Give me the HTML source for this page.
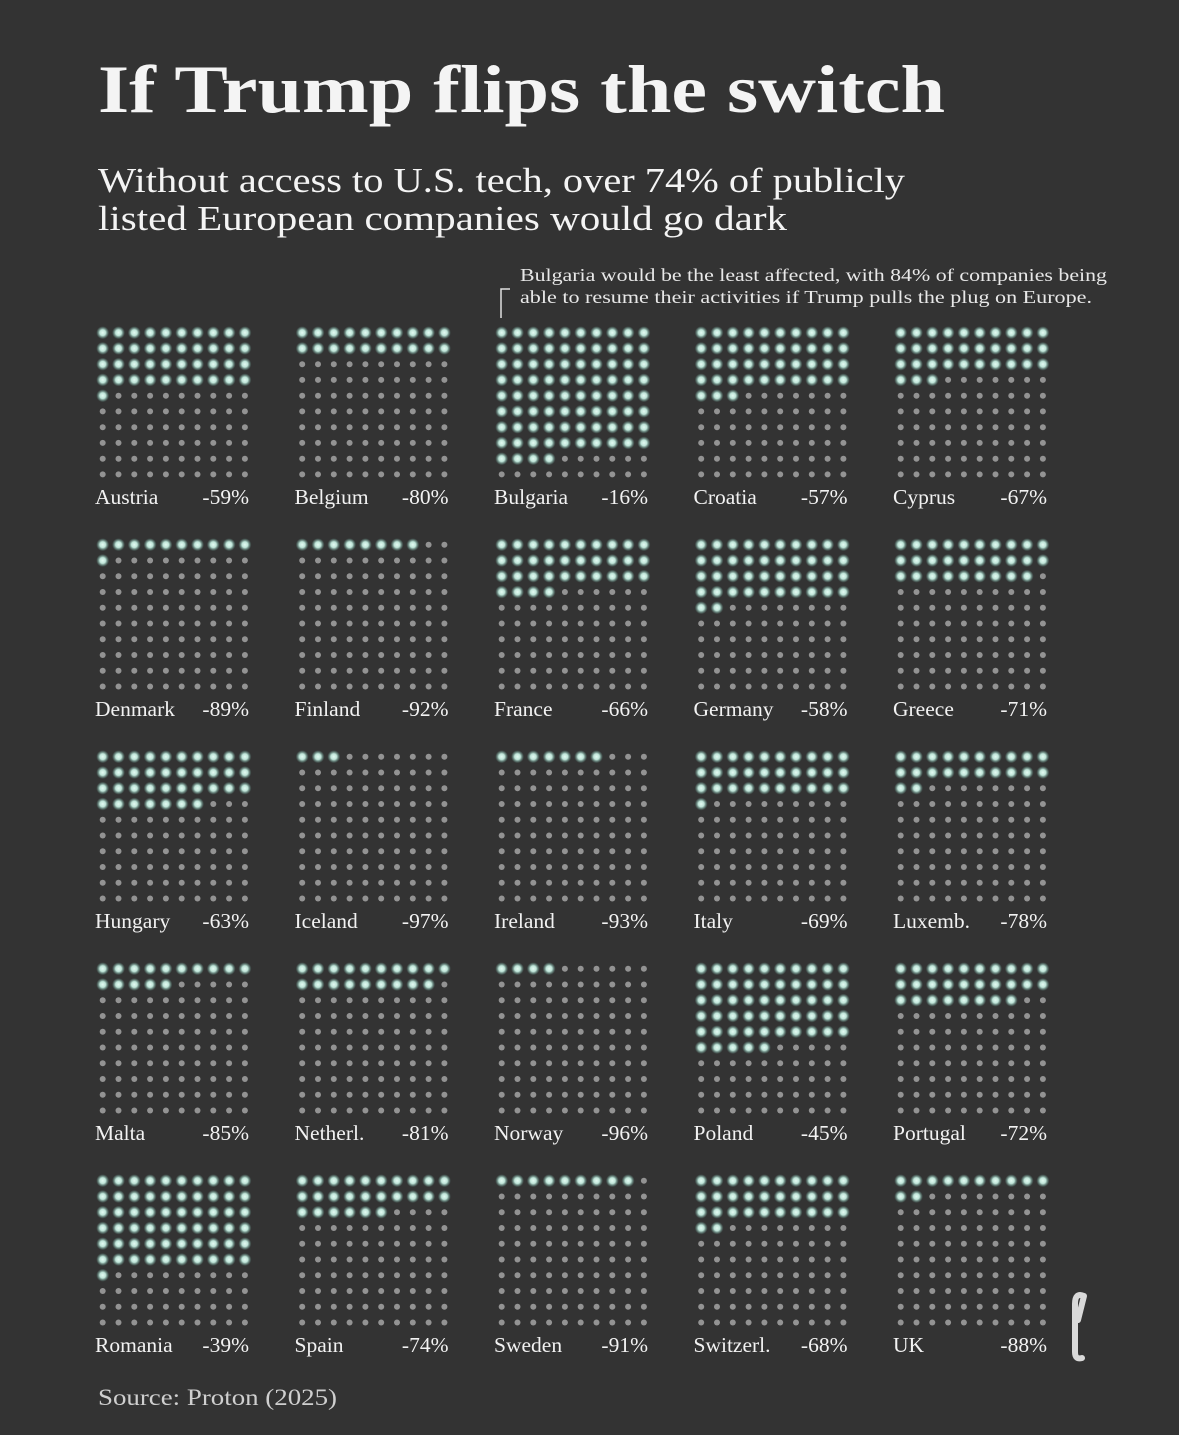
<!DOCTYPE html>
<html><head><meta charset="utf-8"><style>
html,body{margin:0;padding:0;background:#333333;}
svg{display:block;}
</style></head><body>
<svg id="s" width="1179" height="1435" xmlns="http://www.w3.org/2000/svg">
<defs>
<radialGradient id="g"><stop offset="0" stop-color="#e4fbf3"/><stop offset="0.45" stop-color="#bfe4d8"/><stop offset="1" stop-color="#6aa89a" stop-opacity="0"/></radialGradient>
</defs>
<rect width="1179" height="1435" fill="#333333"/>
<g font-family="'Liberation Serif', serif" fill="#f4f4f4">
<text x="98" y="112" font-size="68" font-weight="bold" textLength="847" lengthAdjust="spacingAndGlyphs">If Trump flips the switch</text>
<text x="98" y="192" font-size="35" textLength="807" lengthAdjust="spacingAndGlyphs">Without access to U.S. tech, over 74% of publicly</text>
<text x="98" y="230" font-size="35" textLength="689" lengthAdjust="spacingAndGlyphs">listed European companies would go dark</text>
<text x="520" y="281" font-size="18" fill="#e8e8e8" textLength="587" lengthAdjust="spacingAndGlyphs">Bulgaria would be the least affected, with 84% of companies being</text>
<text x="520" y="303" font-size="18" fill="#e8e8e8" textLength="572" lengthAdjust="spacingAndGlyphs">able to resume their activities if Trump pulls the plug on Europe.</text>
<text x="98" y="1405" font-size="23" fill="#cfcfcf" textLength="239" lengthAdjust="spacingAndGlyphs">Source: Proton (2025)</text>
</g>
<path d="M510 289 H501 V318" stroke="#e0e0e0" stroke-width="1.5" fill="none"/>
<path d="M1084 1296 Q1075 1292 1075 1304 L1075 1352 Q1075 1360 1082 1358 M1084 1296 L1078 1320" stroke="#d9d9d9" stroke-width="6" fill="none" stroke-linecap="round"/>
<g id="dots"></g>
</svg>
<script>
var data=[["Austria",59],["Belgium",80],["Bulgaria",16],["Croatia",57],["Cyprus",67],
["Denmark",89],["Finland",92],["France",66],["Germany",58],["Greece",71],
["Hungary",63],["Iceland",97],["Ireland",93],["Italy",69],["Luxemb.",78],
["Malta",85],["Netherl.",81],["Norway",96],["Poland",45],["Portugal",72],
["Romania",39],["Spain",74],["Sweden",91],["Switzerl.",68],["UK",88]];
var g=document.getElementById("dots"),h="";
data.forEach(function(d,i){
 var c=i%5,r=Math.floor(i/5);
 var x0=102.7+c*199.5,y0=332.7+r*212,lit=100-d[1];
 for(var k=0;k<100;k++){
  var cx=(x0+(k%10)*15.8).toFixed(1),cy=(y0+Math.floor(k/10)*15.75).toFixed(1);
  if(k<lit) h+='<circle cx="'+cx+'" cy="'+cy+'" r="6.5" fill="url(#g)"/>';
  else h+='<circle cx="'+cx+'" cy="'+cy+'" r="3" fill="#939393"/>';
 }
 var lx=95+c*199.5,ly=504+r*212;
 h+='<text x="'+lx+'" y="'+ly+'" font-family="Liberation Serif, serif" font-size="21.5" fill="#f2f2f2">'+d[0]+'</text>';
 h+='<text x="'+(lx+154)+'" y="'+ly+'" text-anchor="end" font-family="Liberation Serif, serif" font-size="21.5" fill="#f2f2f2">-'+d[1]+'%</text>';
});
g.innerHTML=h;
</script>
</body></html>
